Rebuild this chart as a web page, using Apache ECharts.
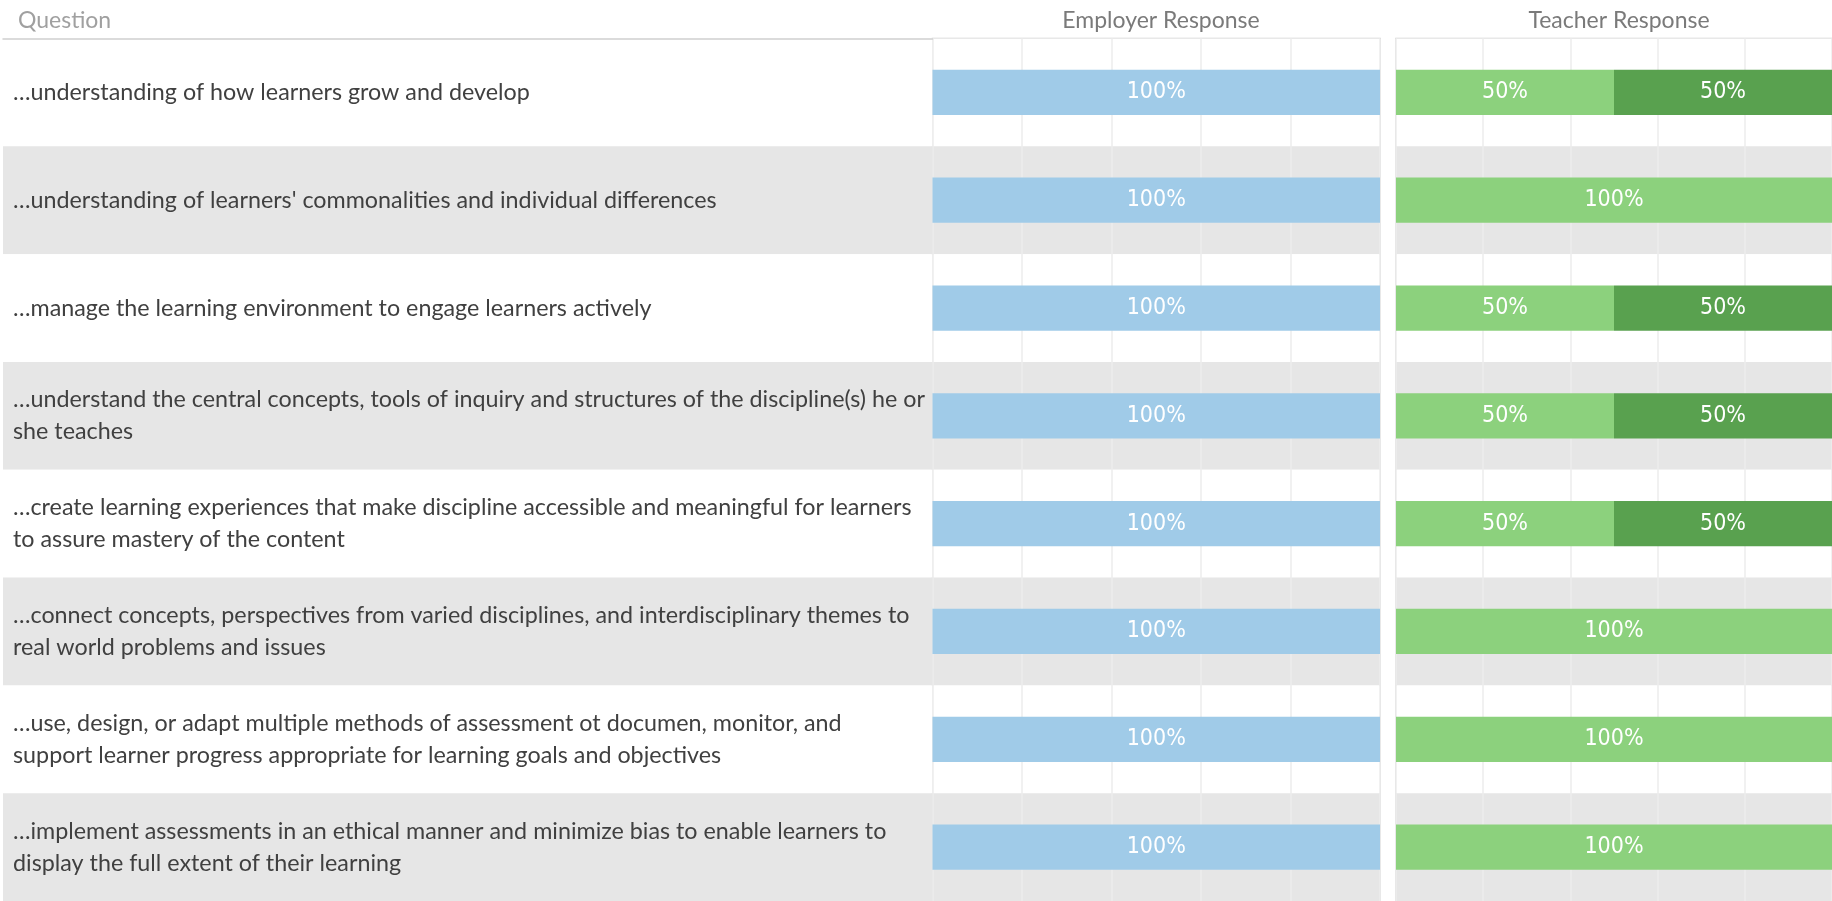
<!DOCTYPE html>
<html>
<head>
<meta charset="utf-8">
<script src="https://cdn.jsdelivr.net/npm/echarts@6/dist/echarts.min.js"></script>
<style>
html,body{margin:0;padding:0;background:#fff;}
#chart{width:1832px;height:901px;}
</style>
</head>
<body>
<div id="chart"></div>
<script>
const questions = [
  "…understanding of how learners grow and develop",
  "…understanding of learners' commonalities and individual differences",
  "…manage the learning environment to engage learners actively",
  "…understand the central concepts, tools of inquiry and structures of the discipline(s) he or\nshe teaches",
  "…create learning experiences that make discipline accessible and meaningful for learners\nto assure mastery of the content",
  "…connect concepts, perspectives from varied disciplines, and interdisciplinary themes to\nreal world problems and issues",
  "…use, design, or adapt multiple methods of assessment ot documen, monitor, and\nsupport learner progress appropriate for learning goals and objectives",
  "…implement assessments in an ethical manner and minimize bias to enable learners to\ndisplay the full extent of their learning"
];
const employerValues = [100, 100, 100, 100, 100, 100, 100, 100];
const teacherValuesA = [50, 100, 50, 50, 50, 100, 100, 100];
const teacherValuesB = [50, 0, 50, 50, 50, 0, 0, 0];
const headers = ["Question", "Employer Response", "Teacher Response"];
const xTicks = [0, 20, 40, 60, 80, 100];

const chart = echarts.init(document.getElementById('chart'), null, {renderer: 'canvas'});
const bandColors = ['#ffffff', '#e6e6e6'];
const gridTop = 38.5;
const labelFont = "'Liberation Sans Narrow', 'DejaVu Sans Condensed', 'Roboto Condensed', sans-serif";

function panelX(idx) {
  return {
    type: 'value', gridIndex: idx, min: xTicks[0], max: xTicks[xTicks.length - 1],
    interval: xTicks[1] - xTicks[0],
    axisLine: {show: false}, axisTick: {show: false}, axisLabel: {show: false},
    splitLine: {show: true, lineStyle: {color: '#ececec', width: 1.5}}
  };
}
function bandY(idx, extra) {
  return Object.assign({
    type: 'category', gridIndex: idx, data: questions, inverse: true,
    axisLine: {show: false}, axisTick: {show: false}, axisLabel: {show: false},
    splitLine: {show: false},
    splitArea: {show: true, areaStyle: {color: bandColors}}
  }, extra || {});
}
const valLabel = {
  show: true, position: 'inside', color: '#ffffff', fontSize: 23,
  fontFamily: labelFont,
  formatter: p => (p.value > 0 ? p.value + '%' : '')
};

chart.setOption({
  animation: false,
  backgroundColor: '#ffffff',
  title: [
    {text: headers[0], left: 13, top: 4, textStyle: {fontSize: 23, fontWeight: 'normal', color: '#a0a0a0', fontFamily: 'Lato'}},
    {text: headers[1], left: 1156, top: 4, textAlign: 'center', textStyle: {fontSize: 23, fontWeight: 'normal', color: '#7a7a7a', fontFamily: 'Lato'}},
    {text: headers[2], left: 1614, top: 4, textAlign: 'center', textStyle: {fontSize: 23, fontWeight: 'normal', color: '#7a7a7a', fontFamily: 'Lato'}}
  ],
  grid: [
    {left: 3, width: 929.5, top: gridTop, bottom: 0, show: false},
    {left: 932.5, width: 447.5, top: gridTop, bottom: -2, show: true, borderColor: '#d0d0d0', borderWidth: 1.5, backgroundColor: 'transparent'},
    {left: 1396, width: 440, top: gridTop, bottom: -2, show: true, borderColor: '#d0d0d0', borderWidth: 1.5, backgroundColor: 'transparent'}
  ],
  xAxis: [
    {type: 'value', gridIndex: 0, min: 0, max: 1, position: 'top',
     axisLine: {show: true, lineStyle: {color: '#d0d0d0', width: 1.5}},
     axisTick: {show: false}, axisLabel: {show: false}, splitLine: {show: false}},
    panelX(1),
    panelX(2)
  ],
  yAxis: [
    bandY(0, {axisLabel: {show: true, inside: true, margin: 10, align: 'left',
      fontSize: 23.3, lineHeight: 32, color: '#404040', fontFamily: 'Lato'}}),
    bandY(1),
    bandY(2)
  ],
  series: [
    {type: 'bar', name: 'Employer', xAxisIndex: 1, yAxisIndex: 1, data: employerValues,
     barWidth: '42%', itemStyle: {color: '#a0cbe8'}, label: valLabel},
    {type: 'bar', name: 'Teacher A', xAxisIndex: 2, yAxisIndex: 2, stack: 't', data: teacherValuesA,
     barWidth: '42%', itemStyle: {color: '#8cd17d'}, label: valLabel},
    {type: 'bar', name: 'Teacher B', xAxisIndex: 2, yAxisIndex: 2, stack: 't', data: teacherValuesB,
     barWidth: '42%', itemStyle: {color: '#59a14f'}, label: valLabel}
  ]
});
</script>
</body>
</html>
